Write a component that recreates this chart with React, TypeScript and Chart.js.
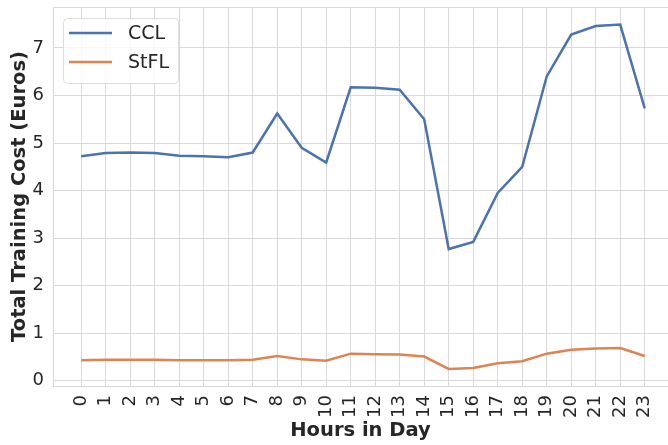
import React, { useEffect, useRef } from "react";
import { Chart, registerables } from "chart.js";

Chart.register(...registerables);

const hours = Array.from({ length: 24 }, (_, i) => i);
const ccl = [4.72, 4.79, 4.8, 4.79, 4.73, 4.72, 4.7, 4.8, 5.62, 4.9, 4.59, 6.17, 6.16, 6.12, 5.5, 2.77, 2.92, 3.95, 4.5, 6.4, 7.28, 7.46, 7.49, 5.73];
const stfl = [0.43, 0.44, 0.44, 0.44, 0.43, 0.43, 0.43, 0.44, 0.52, 0.45, 0.42, 0.57, 0.56, 0.55, 0.51, 0.25, 0.27, 0.37, 0.41, 0.57, 0.65, 0.68, 0.69, 0.52];
const yTicks = [0, 1, 2, 3, 4, 5, 6, 7];
const seriesNames = ["CCL", "StFL"];
const seriesColors = ["#4C72B0", "#DD8452"];

const FONT = "'DejaVu Sans', sans-serif";
const TEXT = "#262626";
const GRID = "#d9d9d9";

const framePlugin = {
  id: "frame",
  beforeDatasetsDraw(chart: any) {
    const { ctx, chartArea } = chart;
    ctx.save();
    ctx.strokeStyle = GRID;
    ctx.lineWidth = 1;
    ctx.strokeRect(chartArea.left + 0.5, chartArea.top + 0.5, chartArea.right - chartArea.left, chartArea.bottom - chartArea.top);
    ctx.restore();
  },
};

const legendPlugin = {
  id: "insideLegend",
  afterDatasetsDraw(chart: any) {
    const { ctx, chartArea } = chart;
    const x = chartArea.left + 10;
    const y = chartArea.top + 11;
    const w = 115;
    const h = 65;
    ctx.save();
    ctx.beginPath();
    if (ctx.roundRect) ctx.roundRect(x + 0.5, y + 0.5, w, h, 4);
    else ctx.rect(x + 0.5, y + 0.5, w, h);
    ctx.fillStyle = "rgba(255,255,255,0.8)";
    ctx.fill();
    ctx.strokeStyle = "#dddddd";
    ctx.lineWidth = 1;
    ctx.stroke();
    chart.data.datasets.forEach((ds: any, i: number) => {
      const ly = y + 15 + i * 29;
      ctx.strokeStyle = ds.borderColor;
      ctx.lineWidth = 2.5;
      ctx.beginPath();
      ctx.moveTo(x + 6, ly);
      ctx.lineTo(x + 49, ly);
      ctx.stroke();
      ctx.fillStyle = TEXT;
      ctx.font = `19px ${FONT}`;
      ctx.textBaseline = "middle";
      ctx.textAlign = "left";
      ctx.fillText(ds.label, x + 65, ly + 1);
    });
    ctx.restore();
  },
};

export default function App() {
  const ref = useRef<HTMLCanvasElement>(null);
  useEffect(() => {
    if (!ref.current) return;
    const chart = new Chart(ref.current, {
      type: "line",
      data: {
        datasets: [ccl, stfl].map((vals, i) => ({
          label: seriesNames[i],
          data: vals.map((v, j) => ({ x: hours[j], y: v })),
          borderColor: seriesColors[i],
          backgroundColor: seriesColors[i],
          borderWidth: 2.5,
          pointRadius: 0,
          tension: 0,
        })),
      },
      options: {
        responsive: false,
        animation: false,
        layout: { padding: { top: 7, right: 0, left: 0, bottom: 0 } },
        plugins: { legend: { display: false }, tooltip: { enabled: false } },
        scales: {
          x: {
            type: "linear",
            min: -1.15,
            max: 23.95,
            afterBuildTicks: (s: any) => {
              s.ticks = hours.map((v) => ({ value: v }));
            },
            afterFit: (s: any) => {
              s.height = 59;
              s.paddingLeft = 0;
              s.paddingRight = 0;
            },
            ticks: {
              autoSkip: false,
              minRotation: 90,
              maxRotation: 90,
              padding: 9,
              color: TEXT,
              font: { family: FONT, size: 18 },
              callback: (v: any) => String(v),
            },
            grid: { color: GRID, drawTicks: false },
            border: { display: false },
            title: {
              display: true,
              text: "Hours in Day",
              color: TEXT,
              font: { family: FONT, size: 19.5, weight: "bold" },
              padding: { top: 0, bottom: 2 },
            },
          },
          y: {
            type: "linear",
            min: -0.11,
            max: 7.86,
            afterBuildTicks: (s: any) => {
              s.ticks = yTicks.map((v) => ({ value: v }));
            },
            afterFit: (s: any) => {
              s.width = 53;
              s.paddingTop = 0;
              s.paddingBottom = 0;
            },
            ticks: {
              padding: 9,
              color: TEXT,
              font: { family: FONT, size: 18 },
              callback: (v: any) => String(v),
            },
            grid: { color: GRID, drawTicks: false },
            border: { display: false },
            title: {
              display: true,
              text: "Total Training Cost (Euros)",
              color: TEXT,
              font: { family: FONT, size: 19.5, weight: "bold" },
              padding: { top: 8, bottom: 0 },
            },
          },
        },
      },
      plugins: [framePlugin, legendPlugin],
    });
    return () => chart.destroy();
  }, []);
  return (
    <div style={{ position: "fixed", left: 0, top: 0, width: 668, height: 445, background: "#fff" }}>
      <canvas ref={ref} width={668} height={445} style={{ display: "block" }} />
    </div>
  );
}
